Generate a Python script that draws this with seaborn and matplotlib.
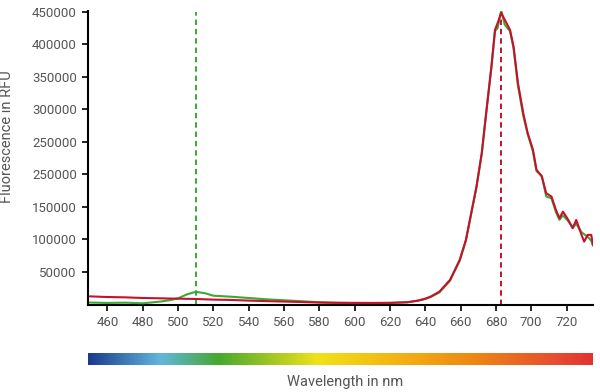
import numpy as np
import pandas as pd
import matplotlib
matplotlib.use("Agg")
import matplotlib.pyplot as plt
import seaborn as sns
from matplotlib.colors import LinearSegmentedColormap

# ---------------- data ----------------
wavelength = [450, 460, 470, 480, 490, 495, 500, 505, 510, 515, 520, 530, 540, 550,
              560, 570, 580, 590, 600, 610, 620, 630, 636, 640, 643, 648, 654, 659.5,
              663, 666, 669, 672, 674.5, 677.5, 679.5, 681, 683, 685, 688, 690, 692.5,
              695.5, 698, 701, 703, 706, 708.5, 711.5, 714, 716, 718, 721, 723.5, 725.5,
              728.5, 730, 732, 734, 735]
red_rfu = [12500, 11500, 11000, 10000, 9500, 9200, 9000, 8700, 8500, 8000, 7500, 7000,
           6000, 5200, 4500, 3800, 3000, 2600, 2500, 2400, 2500, 3500, 6000, 9000, 12000,
           19700, 37700, 68500, 99000, 140000, 181000, 232600, 294000, 366000, 422000,
           432600, 448000, 437700, 422000, 396600, 340300, 294000, 263400, 237700, 207000,
           196600, 171000, 165800, 145400, 132600, 142800, 130000, 117200, 130000, 107000,
           96600, 107000, 107000, 92000]
green_rfu = [3000, 2400, 2800, 1800, 4500, 6500, 9500, 15500, 19500, 17500, 13500, 12000,
             10000, 8000, 6500, 5000, 3500, 2600, 2200, 2200, 2400, 3500, 6000, 8500, 11500,
             18500, 36500, 67000, 98000, 139000, 180000, 232000, 294000, 366000, 420000,
             425000, 452000, 430000, 420000, 394000, 336000, 290000, 262000, 235000, 205000,
             198000, 166000, 163000, 142000, 130000, 137000, 128000, 118000, 124000, 111000,
             108000, 104000, 98000, 90000]
green_marker_nm = 510
red_marker_nm = 683
x_ticks = [460, 480, 500, 520, 540, 560, 580, 600, 620, 640, 660, 680, 700, 720]
y_ticks = [50000, 100000, 150000, 200000, 250000, 300000, 350000, 400000, 450000]
y_tick_labels = ["50000", "100000", "150000", "250000", "250000",
                 "300000", "350000", "400000", "450000"]
spectrum_stops = [0.0, 0.143, 0.257, 0.455, 0.62, 0.756, 0.935, 1.0]
spectrum_colors = ["#1b3c8d", "#62b6de", "#46a82e", "#f0e21a", "#f5b012",
                   "#ee8a12", "#e64a30", "#e23232"]

df = pd.DataFrame({"wl": wavelength, "red": red_rfu, "green": green_rfu})

# ---------------- style ----------------
sns.set_style("ticks")
plt.rcParams["font.family"] = ["Roboto", "DejaVu Sans"]

GREEN = "#3aa935"
RED = "#c8102e"
TXT = "#555555"

fig = plt.figure(figsize=(6.0, 3.92), dpi=100)
ax = fig.add_axes([88 / 600, 1 - 304.5 / 392, 505 / 600, (304.5 - 11) / 392])

xlim = (449, 735)
ylim = (0, 451000)

# dashed markers
ax.plot([green_marker_nm, green_marker_nm], [0, 450000], color=GREEN, lw=1.4,
        dashes=(2.8, 2.0), zorder=1)
ax.plot([red_marker_nm, red_marker_nm], [0, 450000], color=RED, lw=1.4,
        dashes=(2.8, 2.0), zorder=1)

sns.lineplot(data=df, x="wl", y="green", ax=ax, color=GREEN, lw=1.5,
             sort=False, estimator=None, zorder=3, solid_joinstyle="round",
             solid_capstyle="round")
sns.lineplot(data=df, x="wl", y="red", ax=ax, color=RED, lw=1.5,
             sort=False, estimator=None, zorder=4, solid_joinstyle="round",
             solid_capstyle="round")

ax.set_xlim(*xlim)
ax.set_ylim(*ylim)
ax.set_xticks(x_ticks)
ax.set_xticklabels([str(t) for t in x_ticks])
ax.set_yticks(y_ticks)
ax.set_yticklabels(y_tick_labels)
ax.set_xlabel("")
ax.set_ylabel("")
for s in ["top", "right"]:
    ax.spines[s].set_visible(False)
for s in ["left", "bottom"]:
    ax.spines[s].set_color("black")
    ax.spines[s].set_linewidth(1.5)
ax.tick_params(axis="both", direction="out", length=4, width=1.2, color="black",
               labelcolor=TXT, labelsize=9.5, pad=4)
ax.set_facecolor("white")

fig.text(7 / 600, 1 - 137 / 392, "Fluorescence in RFU", rotation=90, ha="center",
         va="center", color=TXT, fontsize=10.5)

# spectrum bar
cmap = LinearSegmentedColormap.from_list("spec", list(zip(spectrum_stops, spectrum_colors)))
cax = fig.add_axes([88 / 600, 1 - 365 / 392, 505 / 600, 12.3 / 392])
cax.imshow(np.linspace(0, 1, 512)[None, :], aspect="auto", cmap=cmap)
cax.set_axis_off()

fig.text(345 / 600, 1 - 382 / 392, "Wavelength in nm", ha="center", va="center",
         color=TXT, fontsize=10.5)

fig.savefig("out.png", dpi=100, facecolor="white")
